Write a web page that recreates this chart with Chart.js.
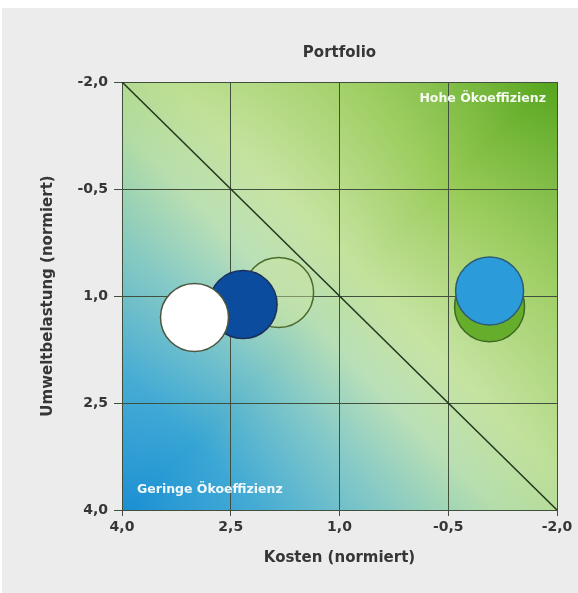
<!DOCTYPE html>
<html>
<head>
<meta charset="utf-8">
<script src="https://cdn.jsdelivr.net/npm/chart.js@4.4.1/dist/chart.umd.min.js"></script>
<style>
  html, body { margin: 0; padding: 0; background: #ffffff; }
  #panel { position: absolute; left: 2px; top: 8px; right: 0; bottom: 0; background: #ececec; }
  #wrap { position: absolute; left: 0; top: 0; width: 578px; height: 593px; }
</style>
</head>
<body>
<div id="panel"></div>
<div id="wrap"><canvas id="c" width="578" height="593"></canvas></div>
<script>
// Portfolio: costs vs. environmental impact (both normalised)
const chartTitle = 'Portfolio';
const products   = ['Produkt A', 'Produkt B', 'Produkt C', 'Produkt D', 'Produkt E'];
const kosten     = [1.84, 2.33, 3.0, -1.07, -1.07];
const umwelt     = [0.95, 1.12, 1.30, 1.15, 0.93];
const radius     = [35, 34, 34, 35, 34];
const xTicks     = [4.0, 2.5, 1.0, -0.5, -2.0];
const yTicks     = [-2.0, -0.5, 1.0, 2.5, 4.0];
const diagonalX  = [4.0, -2.0];
const diagonalY  = [-2.0, 4.0];

const fills   = ['rgba(205,228,160,0.45)', '#0b4c9e', '#ffffff', '#66ad2c', '#2c9bd9'];
const borders = ['#4b6a2c', '#1c2f5a', '#4d5640', '#3d6a22', '#2d5c74'];

const fmt = v => v.toFixed(1).replace('.', ',');
const FONT = "'DejaVu Sans', 'Liberation Sans', sans-serif";
const INK = '#363636';
const GRID = '#40503c';

// gradient backdrop of the plot area, painted before grid and data
const backdrop = {
  id: 'backdrop',
  beforeDraw(chart) {
    const { ctx, chartArea: a } = chart;
    ctx.save();
    const g = ctx.createLinearGradient(a.left, a.bottom, a.right, a.top);
    g.addColorStop(0.00, '#1b8fd3');
    g.addColorStop(0.16, '#35a4d4');
    g.addColorStop(0.31, '#76c3c8');
    g.addColorStop(0.44, '#b6deb4');
    g.addColorStop(0.55, '#c3e29c');
    g.addColorStop(0.76, '#97ca56');
    g.addColorStop(1.00, '#55a51c');
    ctx.fillStyle = g;
    ctx.fillRect(a.left, a.top, a.width, a.height);
    const h = ctx.createLinearGradient(a.left, a.top, a.right, a.bottom);
    h.addColorStop(0.0, 'rgba(160,208,100,0.35)');
    h.addColorStop(0.5, 'rgba(255,255,255,0)');
    h.addColorStop(1.0, 'rgba(165,212,125,0.3)');
    ctx.fillStyle = h;
    ctx.fillRect(a.left, a.top, a.width, a.height);
    ctx.restore();
  }
};

// chart title centred over the plot, and the two region captions
const captions = {
  id: 'captions',
  afterDatasetsDraw(chart) {
    const { ctx, chartArea: a } = chart;
    ctx.save();
    ctx.textBaseline = 'middle';
    ctx.fillStyle = INK;
    ctx.font = "bold 15px " + FONT;
    ctx.textAlign = 'center';
    ctx.fillText(chartTitle, (a.left + a.right) / 2, 53);
    ctx.fillStyle = 'rgba(255,255,255,0.93)';
    ctx.font = "bold 12.5px " + FONT;
    ctx.textAlign = 'right';
    ctx.fillText('Hohe Ökoeffizienz', a.right - 11, a.top + 17);
    ctx.textAlign = 'left';
    ctx.fillText('Geringe Ökoeffizienz', a.left + 15, a.bottom - 20);
    ctx.restore();
  }
};

new Chart(document.getElementById('c'), {
  data: {
    datasets: [
      {
        type: 'scatter',
        data: diagonalX.map((x, i) => ({ x, y: diagonalY[i] })),
        showLine: true,
        borderColor: '#22351f',
        borderWidth: 1.5,
        pointRadius: 0,
        order: 2
      },
      {
        type: 'bubble',
        data: products.map((p, i) => ({ x: kosten[i], y: umwelt[i], r: radius[i] })),
        backgroundColor: fills,
        borderColor: borders,
        borderWidth: 1.5,
        hoverRadius: 0,
        clip: false,
        order: 1
      }
    ]
  },
  options: {
    responsive: false,
    animation: false,
    events: [],
    layout: { autoPadding: false, padding: { left: 0, right: 21, top: 82, bottom: 0 } },
    plugins: {
      legend: { display: false },
      tooltip: { enabled: false },
      title: { display: false }
    },
    scales: {
      x: {
        type: 'linear',
        reverse: true,
        min: -2, max: 4,
        afterBuildTicks: s => { s.ticks = xTicks.map(v => ({ value: v })); },
        afterFit: s => { s.height = 83; s.paddingLeft = 0; s.paddingRight = 0; },
        ticks: {
          color: INK,
          font: { family: FONT, size: 14, weight: 'bold' },
          padding: 3,
          maxRotation: 0,
          callback: v => fmt(v)
        },
        grid: { color: GRID, lineWidth: 1, tickLength: 6 },
        border: { color: GRID, width: 1 },
        title: {
          display: true,
          text: 'Kosten (normiert)',
          color: INK,
          font: { family: FONT, size: 15, weight: 'bold', lineHeight: 1.2 },
          padding: { top: 0, bottom: 26 }
        }
      },
      y: {
        type: 'linear',
        reverse: true,
        min: -2, max: 4,
        afterBuildTicks: s => { s.ticks = yTicks.map(v => ({ value: v })); },
        afterFit: s => { s.width = 122; s.paddingTop = 0; s.paddingBottom = 0; },
        ticks: {
          color: INK,
          font: { family: FONT, size: 14, weight: 'bold' },
          padding: 6,
          callback: v => fmt(v)
        },
        grid: { color: GRID, lineWidth: 1, tickLength: 8 },
        border: { color: GRID, width: 1 },
        title: {
          display: true,
          text: 'Umweltbelastung (normiert)',
          color: INK,
          font: { family: FONT, size: 15, weight: 'bold', lineHeight: 1.2 },
          padding: { top: 39, bottom: 0 }
        }
      }
    }
  },
  plugins: [backdrop, captions]
});
</script>
</body>
</html>
